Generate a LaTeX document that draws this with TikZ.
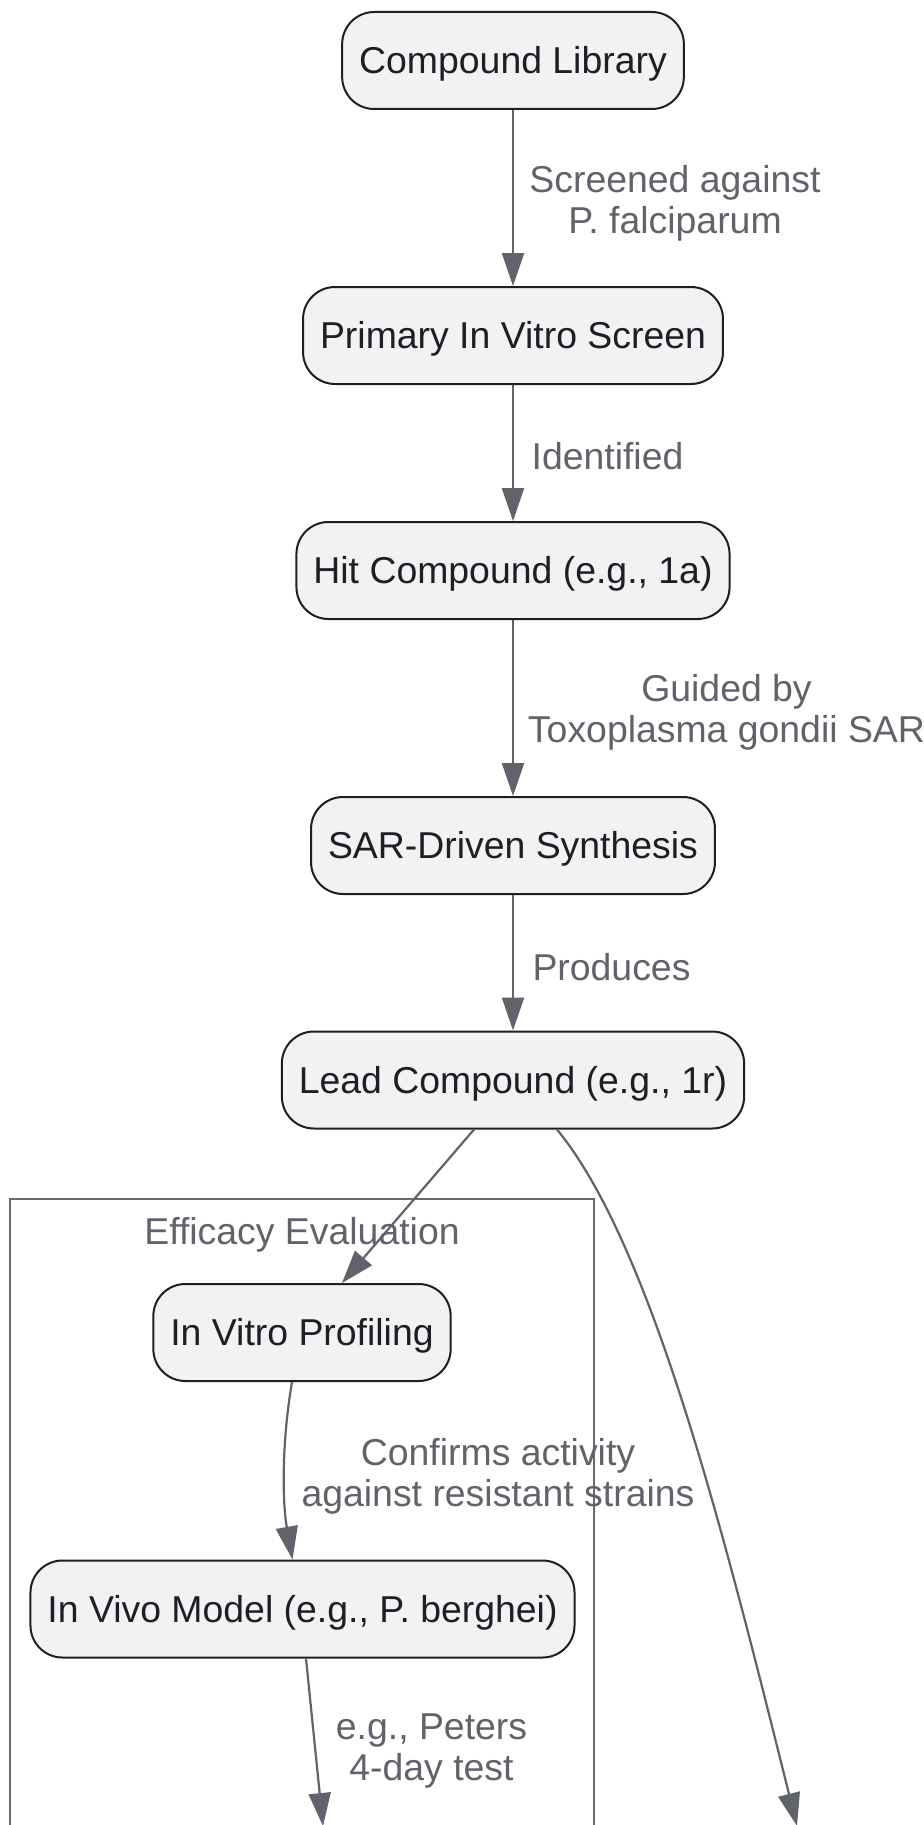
\documentclass[tikz,border=0pt]{standalone}
\usepackage{fontspec}
\setmainfont{Liberation Sans}
\usetikzlibrary{arrows.meta}
\definecolor{nodefill}{RGB}{241,242,244}
\definecolor{nodeline}{RGB}{30,31,34}
\definecolor{edgecol}{RGB}{96,99,105}
\definecolor{labelcol}{RGB}{96,99,105}
\definecolor{clustercol}{RGB}{102,105,110}
\definecolor{textcol}{RGB}{30,31,34}
\begin{document}
\begin{tikzpicture}[x=0.5pt,y=-0.5pt,
  box/.style={draw=nodeline, fill=nodefill, line width=1pt, rounded corners=16pt,
    minimum height=48.5pt, inner xsep=8.5pt, inner ysep=0pt,
    text height=16.8pt, text depth=3.7pt,
    font=\fontsize{18.7pt}{20.5pt}\selectfont, text=textcol},
  elabel/.style={font=\fontsize{18.7pt}{20.5pt}\selectfont, text=labelcol, align=center, inner sep=0pt},
  conn/.style={draw=edgecol, line width=1.1pt, -{Triangle[width=11pt,length=16.5pt]}}]
\clip (0,0) rectangle (924,1825);
\fill[white] (0,0) rectangle (924,1825);

% cluster
\draw[clustercol, line width=1pt] (9.5,1199) rectangle (594,1860);
\node[elabel] (clab) at (302,1235) {Efficacy Evaluation};

% nodes
\node[box] (lib) at (513,60.5) {Compound Library};
\node[box] (prim) at (513,335.5) {Primary In Vitro Screen};
\node[box] (hit) at (513,570.5) {Hit Compound (e.g., 1a)};
\node[box] (sar) at (513,845.5) {SAR-Driven Synthesis};
\node[box] (lead) at (513,1080) {Lead Compound (e.g., 1r)};
\node[box] (ivp) at (302,1332.5) {In Vitro Profiling};
\node[box] (ivm) at (302.5,1609) {In Vivo Model (e.g., P. berghei)};

\coordinate (endL) at (323,1826);
\coordinate (endR) at (797,1826);

% edges
\draw[conn] (lib) -- (prim);
\draw[conn] (prim) -- (hit);
\draw[conn] (hit) -- (sar);
\draw[conn] (sar) -- (lead);
\draw[conn] ([xshift=-19.5pt]lead.south) -- ([xshift=20pt]ivp.north);
\draw[conn] ([xshift=22pt]lead.south) .. controls (652,1245) and (724,1534) .. (endR);
\draw[conn] ([xshift=-5pt]ivp.south) .. controls (282,1440) and (282,1500) .. ([xshift=-5pt]ivm.north);
\draw[conn] ([xshift=1.75pt]ivm.south) -- (endL);

% edge labels
\node[elabel] (l1) at (675,203) {Screened against\\P. falciparum};
\node[elabel] (l2) at (607.5,456) {Identified};
\node[elabel] (l3) at (726.5,712) {Guided by\\Toxoplasma gondii SAR};
\node[elabel] (l4) at (611.5,967) {Produces};
\node[elabel] (l5) at (498,1476) {Confirms activity\\against resistant strains};
\node[elabel] (l6) at (431.5,1751) {e.g., Peters\\4-day test};
\end{tikzpicture}
\end{document}
